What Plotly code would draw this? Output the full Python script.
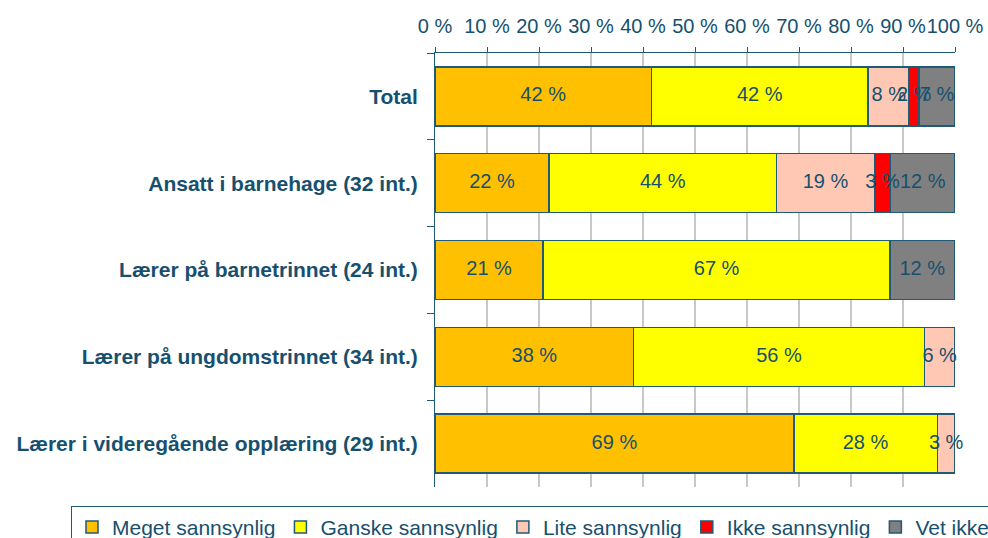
import plotly.graph_objects as go

categories = [
    "Total",
    "Ansatt i barnehage (32 int.)",
    "Lærer på barnetrinnet (24 int.)",
    "Lærer på ungdomstrinnet (34 int.)",
    "Lærer i videregående opplæring (29 int.)",
]
series_names = ["Meget sannsynlig", "Ganske sannsynlig", "Lite sannsynlig", "Ikke sannsynlig", "Vet ikke"]
meget = [41.6, 21.9, 20.8, 38.2, 69.0]
ganske = [41.7, 43.8, 66.7, 55.9, 27.6]
lite = [7.9, 18.8, None, 5.9, 3.4]
ikke = [1.9, 3.1, None, None, None]
vet_ikke = [6.9, 12.4, 12.4, None, None]
colors = ["#FFC000", "#FFFF00", "#FFC8B4", "#FF0000", "#808080"]
x_ticks = list(range(0, 101, 10))
x_tick_labels = [f"{v} %" for v in x_ticks]

TEAL = "#17506E"
EDGE = "#1F5A78"
FONT = "Liberation Sans, Arial"
series = [meget, ganske, lite, ikke, vet_ikke]

fig = go.Figure()
for name, vals, col in zip(series_names, series, colors):
    fig.add_trace(go.Bar(
        y=categories, x=vals, name=name, orientation="h",
        marker=dict(color=col, line=dict(color=EDGE, width=1.5)),
        hoverinfo="x+name",
    ))

# value labels drawn on top of all bars, centred on each segment
cum = [0.0] * len(categories)
for vals in series:
    xs, ys, ts = [], [], []
    for i, v in enumerate(vals):
        if v is None:
            continue
        xs.append(cum[i] + v / 2)
        ys.append(categories[i])
        ts.append(f"{round(v):d} %")
        cum[i] += v
    fig.add_trace(go.Scatter(
        x=xs, y=ys, text=ts, mode="text", textposition="middle center",
        textfont=dict(family=FONT, size=20, color=TEAL),
        showlegend=False, hoverinfo="skip", cliponaxis=False,
    ))

fig.update_layout(
    width=988, height=538,
    barmode="stack", bargap=0.32,
    paper_bgcolor="white", plot_bgcolor="white",
    margin=dict(l=435, r=33, t=53, b=51, autoexpand=False),
    font=dict(family=FONT, color=TEAL),
    legend=dict(
        orientation="h", x=-0.70, xanchor="left", y=-0.0435, yanchor="top",
        font=dict(size=21, color=TEAL), bordercolor=EDGE, borderwidth=1,
        traceorder="normal", itemclick=False,
    ),
    showlegend=True,
)
fig.update_xaxes(
    side="top", range=[0, 100], tickmode="array", tickvals=x_ticks, ticktext=x_tick_labels,
    tickangle=0, tickfont=dict(size=20, color=TEAL), showgrid=True, gridcolor="#C8C8C8",
    gridwidth=1.5, ticks="outside", ticklen=5, tickcolor=EDGE, showline=True, linecolor=EDGE,
    linewidth=1, ticklabelstandoff=6, zeroline=False, fixedrange=True,
)
fig.update_yaxes(
    categoryorder="array", categoryarray=categories, autorange="reversed",
    tickfont=dict(size=21, color=TEAL, family=FONT),
    ticks="outside", ticklen=7, tickcolor=EDGE, tickson="boundaries",
    showline=True, linecolor=EDGE, linewidth=1, ticklabelstandoff=12,
    showgrid=False, fixedrange=True, tickprefix="<b>", ticksuffix="</b>",
)

fig.write_html(
    "out.html",
    config={"displayModeBar": False},
    post_script="document.body.style.margin='0';",
)
